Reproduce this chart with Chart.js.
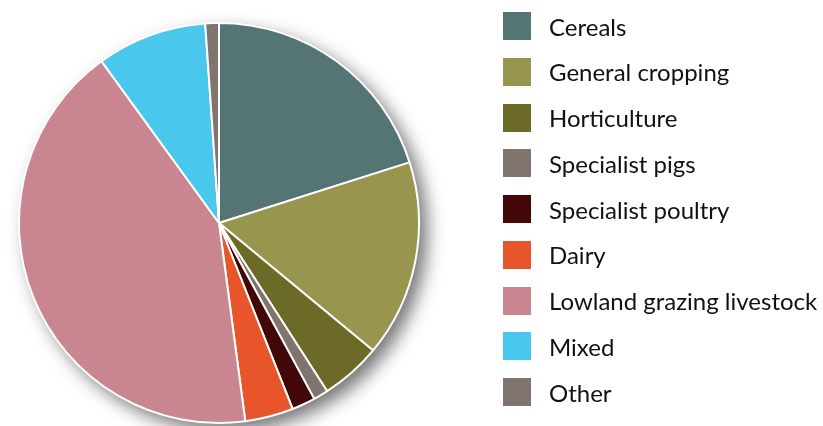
<!DOCTYPE html>
<html lang="en">
<head>
    <meta charset="UTF-8">
    <title>Farm types</title>
    <script src="https://cdn.jsdelivr.net/npm/chart.js"></script>
    <style>
        body {
            margin: 0;
            background: #fff;
            font-family: Lato, "Open Sans", sans-serif;
        }
        #wrap {
            position: relative;
            width: 823px;
            height: 426px;
        }
        #legend {
            position: absolute;
            left: 503px;
            top: 12px;
        }
        .row {
            display: flex;
            align-items: center;
            height: 28px;
            margin-bottom: 17.75px;
            font-size: 24px;
            color: #111;
        }
        .box {
            width: 28px;
            height: 28px;
            margin-right: 18px;
        }
    </style>
</head>
<body>
    <div id="wrap">
        <canvas id="pie" width="823" height="426"></canvas>
        <div id="legend"></div>
    </div>

    <script>
        const categories = ['Cereals', 'General cropping', 'Horticulture', 'Specialist pigs',
            'Specialist poultry', 'Dairy', 'Lowland grazing livestock', 'Mixed', 'Other'];
        const shares = [20.1, 15.9, 4.9, 1.2, 1.9, 3.9, 42.1, 8.9, 1.1];
        const colours = ['#557474', '#98954f', '#6b6a26', '#80756e', '#430707',
            '#e8552b', '#c98690', '#4ac7ec', '#80756e'];

        // soft shadow behind the pie, bottom right
        const pieShadow = {
            id: 'pieShadow',
            beforeDatasetsDraw(chart) {
                const arc = chart.getDatasetMeta(0).data[0];
                if (!arc) return;
                const c = chart.ctx;
                c.save();
                c.shadowColor = 'rgba(0,0,0,0.55)';
                c.shadowBlur = 18;
                c.shadowOffsetX = 8;
                c.shadowOffsetY = 8;
                c.beginPath();
                c.arc(arc.x, arc.y, arc.outerRadius, 0, Math.PI * 2);
                c.fillStyle = '#fff';
                c.fill();
                c.restore();
            }
        };

        new Chart(document.getElementById('pie'), {
            type: 'pie',
            data: {
                labels: categories,
                datasets: [{
                    data: shares,
                    backgroundColor: colours,
                    borderColor: '#fff',
                    borderWidth: 2
                }]
            },
            options: {
                responsive: false,
                animation: false,
                layout: { padding: { left: 16, right: 401, top: 22, bottom: 2 } },
                plugins: {
                    legend: { display: false },
                    tooltip: { enabled: false }
                }
            },
            plugins: [pieShadow]
        });

        const legend = document.getElementById('legend');
        categories.forEach((name, i) => {
            const row = document.createElement('div');
            row.className = 'row';
            row.innerHTML = `<span class="box" style="background:${colours[i]}"></span><span>${name}</span>`;
            legend.appendChild(row);
        });
    </script>
</body>
</html>
